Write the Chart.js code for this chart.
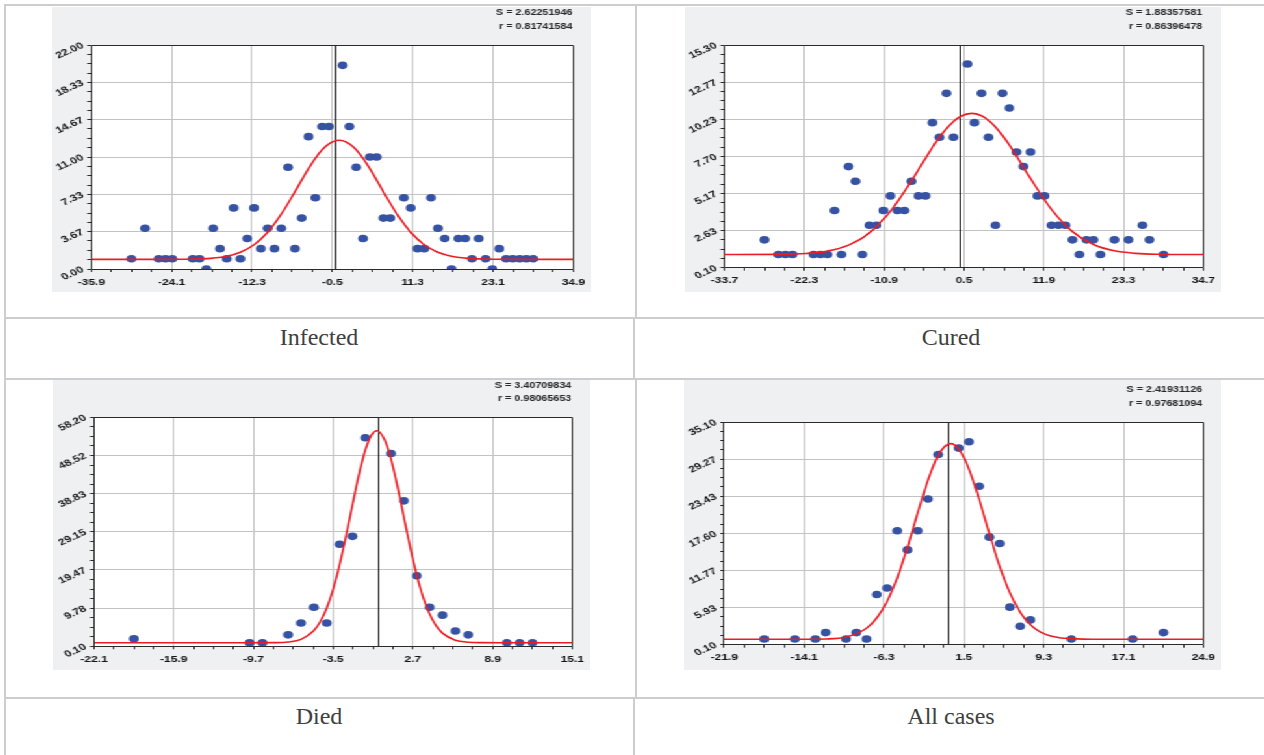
<!DOCTYPE html>
<html>
<head>
<meta charset="utf-8">
<script src="https://cdn.jsdelivr.net/npm/chart.js@4.4.1/dist/chart.umd.min.js"></script>
<style>
  html, body { margin: 0; padding: 0; background: #fff; }
  #page { position: relative; width: 1264px; height: 755px; overflow: hidden; background: #fff; }
  .rule { position: absolute; background: #cdcdcd; }
  .panel { position: absolute; background: #eff0f2; transform-origin: 0 0; }
  .panel canvas { display: block; }
  .caption { position: absolute; font-family: "Liberation Serif", "Times New Roman", serif;
             font-size: 24px; line-height: 24px; color: #404040; text-align: center; white-space: nowrap; }
</style>
</head>
<body>
<div id="page">
  <div class="rule" style="left:4px;top:4px;width:1260px;height:2px"></div>
  <div class="rule" style="left:4px;top:4px;width:2px;height:751px"></div>
  <div class="rule" style="left:635px;top:4px;width:2px;height:315px"></div>
  <div class="rule" style="left:4px;top:317px;width:1260px;height:2px"></div>
  <div class="rule" style="left:633px;top:317px;width:2px;height:63px"></div>
  <div class="rule" style="left:4px;top:378px;width:1260px;height:2px"></div>
  <div class="rule" style="left:635px;top:378px;width:2px;height:321px"></div>
  <div class="rule" style="left:4px;top:697px;width:1260px;height:2px"></div>
  <div class="rule" style="left:633px;top:697px;width:2px;height:58px"></div>

  <div class="panel" id="p0"><canvas id="c0"></canvas></div>
  <div class="panel" id="p1"><canvas id="c1"></canvas></div>
  <div class="panel" id="p2"><canvas id="c2"></canvas></div>
  <div class="panel" id="p3"><canvas id="c3"></canvas></div>
</div>
<script>
// ---- Panel captions and fit statistics ----
const captions = ['Infected', 'Cured', 'Died', 'All cases'];
const fitS = ['2.62251946', '1.88357581', '3.40709834', '2.41931126'];
const fitR = ['0.81741584', '0.86396478', '0.98065653', '0.97681094'];

// ---- Infected ----
const infectedXTicks = [-35.9, -24.1, -12.3, -0.5, 11.3, 23.1, 34.9];
const infectedYTicks = [0, 3.67, 7.33, 11, 14.67, 18.33, 22];
const infectedX = [-30, -28, -26, -25, -24, -21, -20, -19, -18, -17, -16, -15, -14, -13, -12, -11, -10, -9, -8, -7,
                   -6, -5, -4, -3, -2, -1, 1, 2, 3, 4, 5, 6, 7, 8, 10, 11, 12, 13, 14, 15,
                   16, 17, 18, 19, 20, 21, 22, 23, 24, 25, 26, 27, 28, 29];
const infectedY = [1, 4, 1, 1, 1, 1, 1, 0, 4, 2, 1, 6, 1, 3, 6, 2, 4, 2, 4, 10,
                   2, 5, 13, 7, 14, 14, 20, 14, 10, 3, 11, 11, 5, 5, 7, 6, 2, 2, 7, 4,
                   3, 0, 3, 3, 1, 3, 1, 0, 2, 1, 1, 1, 1, 1];
const infectedFitX = [-35.9, -26, -22, -20, -18, -16, -14, -12, -10, -8, -6, -4, -3, -2, -1, 0.5,
                      2, 3, 4, 5, 7, 9, 11, 13, 15, 17, 19, 21, 23, 27, 34.9];
const infectedFitY = [0.95, 0.95, 0.96, 0.99, 1.07, 1.25, 1.64, 2.38, 3.61, 5.38, 7.58, 9.86, 10.87, 11.71, 12.30, 12.65,
                      12.30, 11.71, 10.87, 9.86, 7.58, 5.38, 3.61, 2.38, 1.64, 1.25, 1.07, 0.99, 0.96, 0.95, 0.95];

// ---- Cured ----
const curedXTicks = [-33.7, -22.3, -10.9, 0.5, 11.9, 23.3, 34.7];
const curedYTicks = [0.1, 2.63, 5.17, 7.7, 10.23, 12.77, 15.3];
const curedX = [-28, -26, -25, -24, -21, -20, -19, -18, -17, -16, -15, -14, -13, -12, -11, -10, -9, -8, -7, -6,
                -5, -4, -3, -2, -1, 1, 2, 3, 4, 5, 6, 7, 8, 9, 10, 11, 12, 13, 14, 15,
                16, 17, 18, 19, 20, 22, 24, 26, 27, 29];
const curedY = [2, 1, 1, 1, 1, 1, 1, 4, 1, 7, 6, 1, 3, 3, 4, 5, 4, 4, 6, 5,
                5, 10, 9, 12, 9, 14, 10, 12, 9, 3, 12, 11, 8, 7, 8, 5, 5, 3, 3, 3,
                2, 1, 2, 2, 1, 2, 2, 3, 2, 1];
const curedFitX = [-33.7, -26, -22, -19, -16, -13, -10, -7, -4, -2.5, -1, 0, 1.6, 3, 4, 5.5, 7, 10, 13, 16, 19, 22, 25, 28, 34.7];
const curedFitY = [1.0, 1.01, 1.07, 1.23, 1.64, 2.48, 3.96, 6.03, 8.31, 9.31, 10.08, 10.42, 10.63, 10.47, 10.16, 9.43,
                   8.46, 6.19, 4.08, 2.56, 1.68, 1.25, 1.08, 1.02, 1.0];

// ---- Died ----
const diedXTicks = [-22.1, -15.9, -9.7, -3.5, 2.7, 8.9, 15.1];
const diedYTicks = [0.1, 9.78, 19.47, 29.15, 38.83, 48.52, 58.2];
const diedX = [-19, -10, -9, -7, -6, -5, -4, -3, -2, -1, 1, 2, 3, 4, 5, 6, 7, 10, 11, 12];
const diedY = [2, 1, 1, 3, 6, 10, 6, 26, 28, 53, 49, 37, 18, 10, 8, 4, 3, 1, 1, 1];
const diedFitX = [-22.1, -10, -8, -7, -6, -5, -4.5, -4, -3.5, -3, -2.5, -2, -1.5, -1, -0.5, -0.1,
                  0.5, 1, 1.5, 2, 2.5, 3, 3.5, 4, 4.5, 5, 6, 7, 8, 10, 15.1];
const diedFitY = [1.0, 1.0, 1.03, 1.19, 1.86, 4.09, 6.38, 9.81, 14.6, 20.8, 28.1, 36.0, 43.6, 49.9, 53.8, 54.8,
                  52.5, 47.6, 40.7, 32.84, 25.07, 18.15, 12.5, 8.28, 5.34, 3.44, 1.64, 1.13, 1.02, 1.0, 1.0];

// ---- All cases ----
const allXTicks = [-21.9, -14.1, -6.3, 1.5, 9.3, 17.1, 24.9];
const allYTicks = [0.1, 5.93, 11.77, 17.6, 23.43, 29.27, 35.1];
const allX = [-18, -15, -13, -12, -10, -9, -8, -7, -6, -5, -4, -3, -2, -1, 1, 2, 3, 4, 5, 6, 7, 8, 12, 18, 21];
const allY = [1, 1, 1, 2, 1, 2, 1, 8, 9, 18, 15, 18, 23, 30, 31, 32, 25, 17, 16, 6, 3, 4, 1, 1, 2];
const allFitX = [-21.9, -14, -12, -10, -8, -7, -6, -5, -4, -3, -2, -1, 0.2, 1, 2, 3, 4, 5, 6, 7, 8, 9, 10, 11, 12, 14, 24.9];
const allFitY = [0.95, 0.96, 1.0, 1.31, 2.69, 4.3, 6.89, 10.63, 15.41, 20.8, 25.95, 29.86, 31.7, 30.87, 27.72, 22.94,
                 17.54, 12.43, 8.25, 5.21, 3.23, 2.07, 1.46, 1.16, 1.06, 0.96, 0.95];

const series = [
  { xt: infectedXTicks, yt: infectedYTicks, px: infectedX, py: infectedY, fx: infectedFitX, fy: infectedFitY },
  { xt: curedXTicks, yt: curedYTicks, px: curedX, py: curedY, fx: curedFitX, fy: curedFitY },
  { xt: diedXTicks, yt: diedYTicks, px: diedX, py: diedY, fx: diedFitX, fy: diedFitY },
  { xt: allXTicks, yt: allYTicks, px: allX, py: allY, fx: allFitX, fy: allFitY }
];

// ---- Page geometry (page pixels): panel box, plot frame, caption ----
const STRETCH = 1.3;   // panels are drawn narrow and widened horizontally
const X_AXIS_H = 20;
const layout = [
  { box: { x: 52,  y: 7,   w: 539, h: 285 }, plot: { l: 91.3,  r: 577,    t: 45,    b: 269 },   cap: { l: 5,   w: 628, top: 325 } },
  { box: { x: 685, y: 7,   w: 536, h: 285 }, plot: { l: 724.5, r: 1206,   t: 45,    b: 267.7 }, cap: { l: 635, w: 632, top: 325 } },
  { box: { x: 53,  y: 380, w: 537, h: 290 }, plot: { l: 94,    r: 575.7,  t: 417.3, b: 646.3 }, cap: { l: 5,   w: 628, top: 704 } },
  { box: { x: 684, y: 380, w: 537, h: 290 }, plot: { l: 724.3, r: 1206.3, t: 422,   b: 644.7 }, cap: { l: 635, w: 632, top: 704 } }
];

Chart.defaults.font.family = '"Liberation Sans", Arial, Helvetica, sans-serif';

function withMinor(majors, parts) {
  const out = [];
  for (let k = 0; k < majors.length; k++) {
    out.push({ value: majors[k], main: true });
    if (k < majors.length - 1) {
      const step = (majors[k + 1] - majors[k]) / parts;
      for (let m = 1; m < parts; m++) out.push({ value: majors[k] + step * m, main: false });
    }
  }
  return out;
}

const gridColor = ctx => (ctx.tick && ctx.tick.main) ? '#c3c3c3' : 'rgba(0,0,0,0)';
const crisp = v => Math.round(v - 0.5) + 0.5;

function framePlugin(idx, sx) {
  return {
    id: 'frame' + idx,
    beforeDraw(chart) {
      const a = chart.chartArea, ctx = chart.ctx;
      ctx.save();
      ctx.fillStyle = '#ffffff';
      ctx.fillRect(a.left, a.top, a.right - a.left, a.bottom - a.top);
      ctx.restore();
    },
    beforeDatasetsDraw(chart) {
      const a = chart.chartArea, ctx = chart.ctx;
      const x0 = crisp(chart.scales.x.getPixelForValue(0));
      const l = crisp(a.left), r = crisp(a.right), t = crisp(a.top), b = crisp(a.bottom);
      ctx.save();
      ctx.lineWidth = 1;
      ctx.strokeStyle = '#101010';
      ctx.beginPath();
      ctx.moveTo(x0, t);
      ctx.lineTo(x0, b);
      ctx.stroke();
      ctx.strokeStyle = '#2a2a2a';
      ctx.beginPath();
      ctx.moveTo(l, t); ctx.lineTo(r, t); ctx.lineTo(r, b); ctx.lineTo(l, b); ctx.closePath();
      ctx.stroke();
      ctx.restore();
    },
    afterDraw(chart) {
      const a = chart.chartArea, ctx = chart.ctx;
      ctx.save();
      ctx.font = 'bold 8.3px "Liberation Sans", Arial, sans-serif';
      ctx.fillStyle = '#262626';
      ctx.textAlign = 'right';
      ctx.textBaseline = 'middle';
      ctx.fillText('S = ' + fitS[idx], a.right - 1 / sx, a.top - 32);
      ctx.fillText('r = ' + fitR[idx], a.right - 1 / sx, a.top - 18.5);
      ctx.restore();
    }
  };
}

function buildPanel(idx) {
  const L = layout[idx], S = series[idx];
  const cw = Math.round(L.box.w / STRETCH);
  const sx = L.box.w / cw;
  const ch = L.box.h;

  const wrap = document.getElementById('p' + idx);
  wrap.style.left = L.box.x + 'px';
  wrap.style.top = L.box.y + 'px';
  wrap.style.width = cw + 'px';
  wrap.style.height = ch + 'px';
  wrap.style.transform = 'scaleX(' + sx + ')';

  const canvas = document.getElementById('c' + idx);
  canvas.width = cw;
  canvas.height = ch;
  canvas.style.width = cw + 'px';
  canvas.style.height = ch + 'px';

  const yAxisW = (L.plot.l - L.box.x) / sx;
  const padRight = (L.box.x + L.box.w - L.plot.r) / sx;
  const padTop = L.plot.t - L.box.y;
  const padBottom = L.box.y + L.box.h - L.plot.b - X_AXIS_H;

  const cap = document.createElement('div');
  cap.className = 'caption';
  cap.style.left = L.cap.l + 'px';
  cap.style.width = L.cap.w + 'px';
  cap.style.top = L.cap.top + 'px';
  cap.textContent = captions[idx];
  document.getElementById('page').appendChild(cap);

  const tickFont = { size: 9.3, weight: 'bold' };

  new Chart(canvas, {
    type: 'scatter',
    data: {
      datasets: [
        {
          data: S.fx.map((x, k) => ({ x: x, y: S.fy[k] })),
          showLine: true,
          borderColor: 'rgb(236,28,36)',
          borderWidth: 1.6,
          pointRadius: 0,
          cubicInterpolationMode: 'monotone',
          fill: false,
          order: 0
        },
        {
          data: S.px.map((x, k) => ({ x: x, y: S.py[k] })),
          showLine: false,
          backgroundColor: '#3652a3',
          borderWidth: 0,
          pointRadius: 3.8,
          pointHoverRadius: 3.8,
          order: 1
        }
      ]
    },
    options: {
      responsive: false,
      animation: false,
      events: [],
      layout: { padding: { left: 0, right: padRight, top: padTop, bottom: padBottom } },
      plugins: { legend: { display: false }, tooltip: { enabled: false } },
      scales: {
        x: {
          type: 'linear',
          position: 'bottom',
          min: S.xt[0],
          max: S.xt[S.xt.length - 1],
          afterBuildTicks: s => { s.ticks = withMinor(S.xt, 4); },
          afterFit: s => { s.height = X_AXIS_H; },
          grid: { color: gridColor, lineWidth: 1, tickLength: 3, tickColor: '#2a2a2a', tickWidth: 1 },
          border: { display: false },
          ticks: {
            autoSkip: false, minRotation: 0, maxRotation: 0, padding: 4.5,
            color: '#141414', font: tickFont,
            callback: (v, i, t) => (t[i] && t[i].main) ? Number(v).toFixed(1) : ''
          }
        },
        y: {
          type: 'linear',
          position: 'left',
          min: S.yt[0],
          max: S.yt[S.yt.length - 1],
          afterBuildTicks: s => { s.ticks = withMinor(S.yt, 4); },
          afterFit: s => { s.width = yAxisW; },
          grid: { color: gridColor, lineWidth: 1, tickLength: 3, tickColor: '#2a2a2a', tickWidth: 1 },
          border: { display: false },
          ticks: {
            autoSkip: false, minRotation: 30, maxRotation: 30, padding: 3.5,
            color: '#141414', font: tickFont,
            callback: (v, i, t) => (t[i] && t[i].main) ? Number(v).toFixed(2) : ''
          }
        }
      }
    },
    plugins: [framePlugin(idx, sx)]
  });
}

for (let i = 0; i < 4; i++) buildPanel(i);
</script>
</body>
</html>
